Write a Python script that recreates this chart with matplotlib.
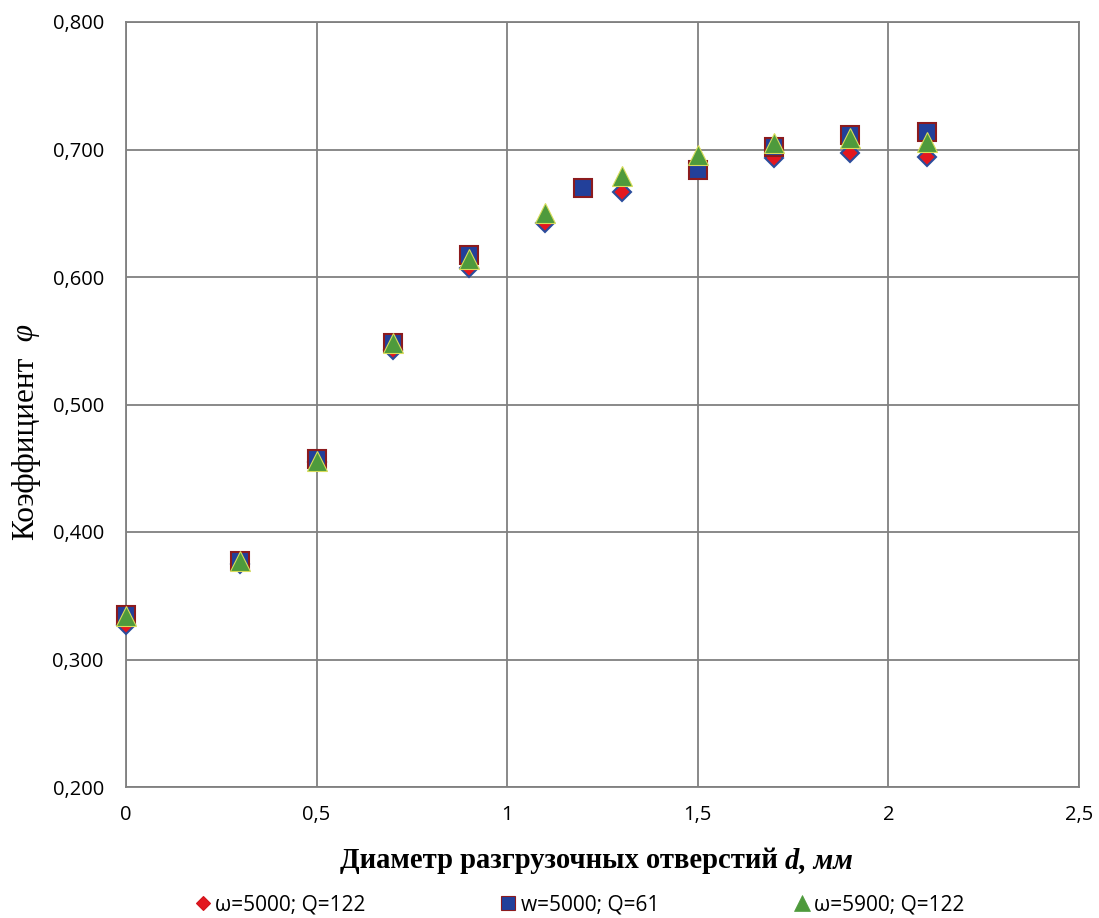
import matplotlib
matplotlib.use('Agg')
import matplotlib.pyplot as plt
from matplotlib.lines import Line2D
from matplotlib.ticker import FuncFormatter

# data
d_diamond = [0.0, 0.3, 0.5, 0.7, 0.9, 1.1, 1.3, 1.7, 1.9, 2.1]
phi_diamond = [0.327, 0.375, 0.455, 0.543, 0.607, 0.642, 0.667, 0.693, 0.697, 0.694]

d_square = [0.0, 0.3, 0.5, 0.7, 0.9, 1.2, 1.5, 1.7, 1.9, 2.1]
phi_square = [0.335, 0.377, 0.457, 0.548, 0.617, 0.670, 0.684, 0.702, 0.711, 0.714]

d_triangle = [0.0, 0.3, 0.5, 0.7, 0.9, 1.1, 1.3, 1.5, 1.7, 1.9, 2.1]
phi_triangle = [0.334, 0.377, 0.456, 0.548, 0.614, 0.650, 0.679, 0.696, 0.705, 0.709, 0.706]

labels = ['ω=5000; Q=122', 'w=5000; Q=61', 'ω=5900; Q=122']

W, H = 1099, 918
fig = plt.figure(figsize=(W / 100, H / 100), dpi=100)
ax = fig.add_axes([126 / W, 1 - 787 / H, (1079 - 126) / W, (787 - 22) / H])

ax.plot(d_diamond, phi_diamond, linestyle='none', marker='D', markersize=9.5,
        markerfacecolor='#e3171f', markeredgecolor='#2b4c9c', markeredgewidth=1.5,
        zorder=3, clip_on=False)
ax.plot(d_square, phi_square, linestyle='none', marker='s', markersize=13,
        markerfacecolor='#22409a', markeredgecolor='#8c1b1e', markeredgewidth=1.5,
        zorder=4, clip_on=False)
ax.plot(d_triangle, phi_triangle, linestyle='none', marker='^', markersize=14,
        markerfacecolor='#4e9a3c', markeredgecolor='#d8dc5a', markeredgewidth=0.8,
        zorder=5, clip_on=False)

ax.set_xlim(0, 2.5)
ax.set_ylim(0.2, 0.8)
ax.set_xticks([0, 0.5, 1, 1.5, 2, 2.5])
ax.set_yticks([0.2, 0.3, 0.4, 0.5, 0.6, 0.7, 0.8])
ax.xaxis.set_major_formatter(FuncFormatter(lambda v, p: ('%g' % v).replace('.', ',')))
ax.yaxis.set_major_formatter(FuncFormatter(lambda v, p: ('%.3f' % v).replace('.', ',')))
ax.tick_params(length=0, labelsize=14.5)
ax.tick_params(axis='x', pad=13)
ax.tick_params(axis='y', pad=16)
for lab in ax.get_xticklabels() + ax.get_yticklabels():
    lab.set_fontfamily('Open Sans')
ax.grid(True, color='#808080', linewidth=1.3)
ax.set_axisbelow(True)
for s in ax.spines.values():
    s.set_color('#808080')
    s.set_linewidth(1.3)

# y label: "Коэффициент" plus italic phi
t1 = fig.text(26 / W, 1 - 540 / H, 'Коэффициент', rotation=90, ha='center', va='bottom',
              fontsize=22.5, fontfamily='Liberation Serif')
ax.annotate('  φ', xy=(0, 1), xycoords=t1, rotation=90, ha='left', va='bottom',
            fontsize=22.5, fontfamily='Liberation Serif', fontstyle='italic',
            annotation_clip=False)

# x label: bold text plus bold italic "d, мм"
t2 = fig.text(340 / W, 1 - 868 / H, 'Диаметр разгрузочных отверстий ', ha='left', va='baseline',
              fontsize=20.6, fontfamily='Liberation Serif', fontweight='bold')
ax.annotate('d, мм', xy=(1, 0), xycoords=t2, ha='left', va='bottom',
            fontsize=20.6, fontfamily='Liberation Serif', fontweight='bold', fontstyle='italic',
            annotation_clip=False)

handles = [
    Line2D([], [], linestyle='none', marker='D', markersize=7.5, markerfacecolor='#e3171f',
           markeredgecolor='#d0141c', markeredgewidth=0.8),
    Line2D([], [], linestyle='none', marker='s', markersize=10.5, markerfacecolor='#22409a',
           markeredgecolor='#8c1b1e', markeredgewidth=0.8),
    Line2D([], [], linestyle='none', marker='^', markersize=12, markerfacecolor='#4e9a3c',
           markeredgecolor='#4e9a3c', markeredgewidth=0.5),
]
fig.legend(handles, labels, loc='center left', bbox_to_anchor=(182 / W, 1 - 905 / H), ncol=3,
           frameon=False, borderpad=0, prop={'family': 'Open Sans', 'size': 15},
           handlelength=1.0, handletextpad=0.1, columnspacing=6.35)

fig.savefig('out.png', dpi=100)
